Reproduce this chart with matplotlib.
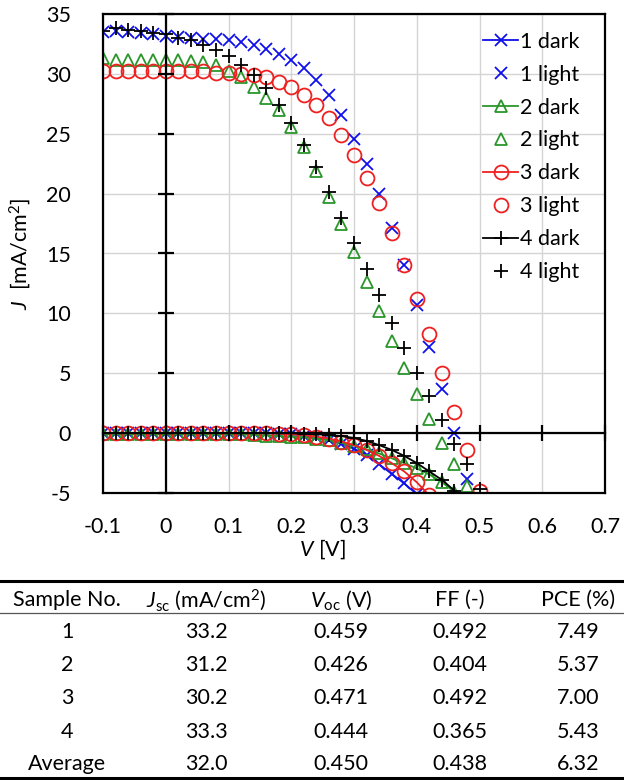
import numpy as np
import matplotlib
matplotlib.use("Agg")
import matplotlib.pyplot as plt
from matplotlib.lines import Line2D

plt.rcParams["font.family"] = ["Lato", "DejaVu Sans"]
plt.rcParams["mathtext.fontset"] = "custom"
plt.rcParams["mathtext.rm"] = "Lato"
plt.rcParams["mathtext.it"] = "Lato:italic"
plt.rcParams["axes.unicode_minus"] = False

# voltage grid (V)
volts = [-0.1, -0.08, -0.06, -0.04, -0.02, 0.0, 0.02, 0.04, 0.06, 0.08,
         0.1, 0.12, 0.14, 0.16, 0.18, 0.2, 0.22, 0.24, 0.26, 0.28,
         0.3, 0.32, 0.34, 0.36, 0.38, 0.4, 0.42, 0.44, 0.46, 0.48, 0.5]

# light J-V (mA/cm2)
j1_light = [33.5, 33.6, 33.5, 33.4, 33.3, 33.2, 33.1, 33.0, 32.9, 32.9,
            32.8, 32.7, 32.4, 32.1, 31.7, 31.2, 30.5, 29.5, 28.2, 26.6,
            24.6, 22.5, 20.0, 17.1, 14.0, 10.7, 7.2, 3.7, 0.0, -3.8]
j2_light = [31.3, 31.2, 31.2, 31.2, 31.2, 31.2, 31.2, 31.1, 31.0, 30.7,
            30.2, 29.7, 28.9, 28.0, 27.0, 25.6, 23.9, 21.9, 19.7, 17.5,
            15.1, 12.6, 10.2, 7.7, 5.4, 3.3, 1.2, -0.8, -2.6, -4.4]
j3_light = [30.2, 30.2, 30.2, 30.2, 30.2, 30.2, 30.2, 30.2, 30.2, 30.1,
            30.1, 30.0, 29.9, 29.7, 29.3, 28.9, 28.2, 27.4, 26.3, 24.9,
            23.2, 21.3, 19.2, 16.7, 14.0, 11.2, 8.3, 5.0, 1.8, -1.4, -4.8]
j4_light = [33.6, 33.8, 33.7, 33.6, 33.4, 33.3, 33.0, 32.8, 32.4, 32.0,
            31.5, 30.7, 29.9, 28.8, 27.4, 25.9, 24.1, 22.2, 20.1, 18.0,
            15.9, 13.7, 11.5, 9.2, 7.1, 5.0, 3.1, 1.1, -0.9, -2.6, -4.7]

# dark J-V (mA/cm2)
j1_dark = [0, 0, 0, 0, 0, 0, 0, 0, 0, 0, 0, 0, 0, 0,
           -0.05, -0.1, -0.2, -0.35, -0.6, -0.9, -1.3, -1.8, -2.6, -3.4, -4.2, -5.1]
j2_dark = [-0.1, -0.1, -0.1, -0.1, -0.1, -0.1, -0.1, -0.1, -0.1, -0.1, -0.1,
           -0.1, -0.15, -0.2, -0.25, -0.3, -0.35, -0.45, -0.6, -0.8,
           -1.05, -1.35, -1.7, -2.1, -2.5, -2.95, -3.45, -4.1, -4.9]
j3_dark = [0, 0, 0, 0, 0, 0, 0, 0, 0, 0, 0, 0, 0, 0,
           -0.05, -0.1, -0.15, -0.3, -0.45, -0.7, -1.0, -1.4, -1.9, -2.5, -3.2, -4.1, -5.2]
j4_dark = [0, 0, 0, 0, 0, 0, 0, 0, 0, 0, 0, 0, 0, 0, 0, 0,
           -0.05, -0.1, -0.15, -0.25, -0.4, -0.65, -1.0, -1.4, -1.9, -2.5, -3.2, -3.9, -4.8]

samples = ["1", "2", "3", "4"]
colors = ["#1010e8", "#2a962a", "#ee2020", "black"]
markers = ["x", "^", "o", "+"]
msizes = [8, 9, 10, 10]
dark_sets = [j1_dark, j2_dark, j3_dark, j4_dark]
light_sets = [j1_light, j2_light, j3_light, j4_light]

# table
headers = ["Sample No.", r"$J_{\mathrm{sc}}$ (mA/cm$^2$)", r"$V_{\mathrm{oc}}$ (V)", "FF (-)", "PCE (%)"]
row_names = ["1", "2", "3", "4", "Average"]
jsc = ["33.2", "31.2", "30.2", "33.3", "32.0"]
voc = ["0.459", "0.426", "0.471", "0.444", "0.450"]
ff = ["0.492", "0.404", "0.492", "0.365", "0.438"]
pce = ["7.49", "5.37", "7.00", "5.43", "6.32"]

fs = 15.5

fig = plt.figure(figsize=(6.24, 7.8), dpi=100)
ax = fig.add_axes([103 / 624, 1 - 493 / 780, 502 / 624, 479 / 780])

for s, c, m, ms, jd, jl in zip(samples, colors, markers, msizes, dark_sets, light_sets):
    ax.plot(volts[:len(jd)], jd, color=c, marker=m, ms=ms, mfc="none", mew=1.3,
            lw=1.3, label=s + " dark")
    ax.plot(volts[:len(jl)], jl, color=c, marker=m, ms=ms, mfc="none", mew=1.3,
            ls="none", label=s + " light")

ax.set_xlim(-0.1, 0.7)
ax.set_ylim(-5, 35)
ax.set_xticks(np.arange(-0.1, 0.71, 0.1))
ax.set_xticklabels(["-0.1", "0", "0.1", "0.2", "0.3", "0.4", "0.5", "0.6", "0.7"])
ax.set_yticks(np.arange(-5, 36, 5))
ax.grid(True, color="#d4d4d4", lw=1)
ax.set_axisbelow(True)
ax.tick_params(length=0, labelsize=fs)
ax.tick_params(axis="y", pad=23)
ax.tick_params(axis="x", pad=17)
for sp in ax.spines.values():
    sp.set_linewidth(1.6)

ax.set_xlabel("$V$ [V]", fontsize=fs)
ax.xaxis.set_label_coords((322 - 103) / 502, -0.092)
ax.set_ylabel("$J$  [mA/cm$^2$]", fontsize=fs)
ax.yaxis.set_label_coords(-0.14, 0.5)

leg = ax.legend(loc="upper right", bbox_to_anchor=(0.975, 0.99), frameon=False,
                fontsize=fs, handlelength=1.6, handletextpad=0.1,
                labelspacing=0.6, borderaxespad=0.2)

# axes crossing at zero (Excel style)
ax2 = fig.add_axes(ax.get_position(), sharex=ax, sharey=ax)
ax2.patch.set_visible(False)
ax2.spines["top"].set_visible(False)
ax2.spines["right"].set_visible(False)
ax2.spines["left"].set_position(("data", 0))
ax2.spines["bottom"].set_position(("data", 0))
ax2.spines["left"].set_linewidth(1.6)
ax2.spines["bottom"].set_linewidth(1.6)
ax2.tick_params(direction="inout", length=11, width=1.6,
                labelleft=False, labelbottom=False)

# table of parameters
tax = fig.add_axes([0, 0, 1, 220 / 780])
tax.set_xlim(0, 624)
tax.set_ylim(220, 0)
tax.axis("off")
col_x = [67, 206, 341, 460, 578]
row_y = [72, 105, 138, 172, 204]
tax.add_line(Line2D([0, 624], [21, 21], color="black", lw=2.2))
tax.add_line(Line2D([0, 624], [53, 53], color="#555555", lw=0.9))
tax.add_line(Line2D([0, 624], [218, 218], color="black", lw=2.2))
for x, h in zip(col_x, headers):
    tax.text(x, 40, h, ha="center", va="center", fontsize=fs)
for i, y in enumerate(row_y):
    for x, val in zip(col_x, [row_names[i], jsc[i], voc[i], ff[i], pce[i]]):
        tax.text(x, y, val, ha="center", va="center", fontsize=fs)

fig.savefig("out.png", dpi=100)
